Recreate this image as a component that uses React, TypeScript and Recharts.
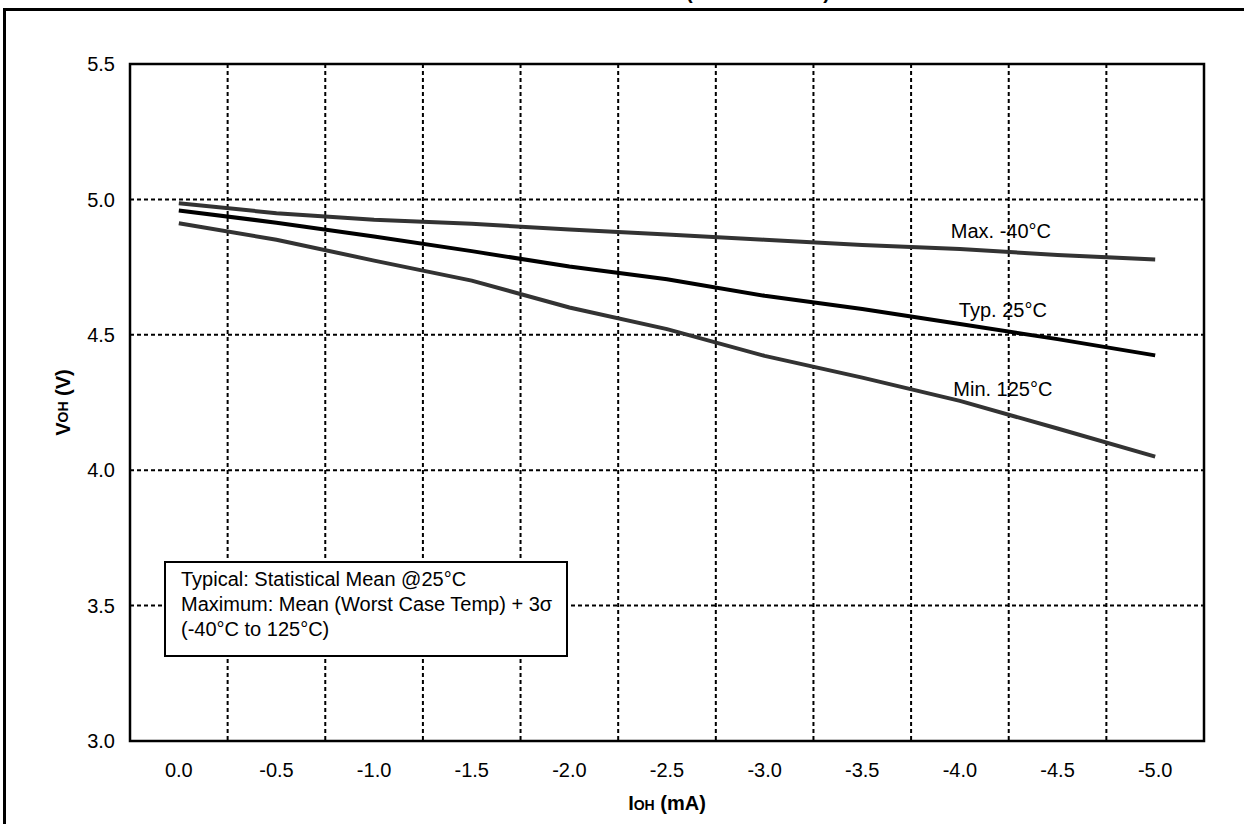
import { CartesianGrid, Line, LineChart, ReferenceArea, ReferenceDot, XAxis, YAxis } from 'recharts';

const FONT = "Arial, 'Liberation Sans', sans-serif";

// IOH (mA) categories and VOH (V) curves
const ioh = [0, -0.5, -1.0, -1.5, -2.0, -2.5, -3.0, -3.5, -4.0, -4.5, -5.0];
const vohMax = [4.986, 4.949, 4.925, 4.91, 4.889, 4.87, 4.851, 4.832, 4.817, 4.795, 4.778];
const vohTyp = [4.959, 4.914, 4.863, 4.809, 4.752, 4.705, 4.644, 4.595, 4.54, 4.484, 4.424];
const vohMin = [4.912, 4.851, 4.774, 4.7, 4.601, 4.521, 4.422, 4.342, 4.256, 4.154, 4.05];
const yTicks = [3.0, 3.5, 4.0, 4.5, 5.0, 5.5];
const seriesNames = ['Max. -40°C', 'Typ. 25°C', 'Min. 125°C'];
const noteLines = ['Typical: Statistical Mean @25°C', 'Maximum: Mean (Worst Case Temp) + 3σ', '(-40°C to 125°C)'];

const data = ioh.map((x, i) => ({ x, max: vohMax[i], typ: vohTyp[i], min: vohMin[i] }));

// half a category either side, like the original category axis
const xDomain = [ioh[ioh.length - 1] - 0.25, ioh[0] + 0.25];
const gridX = ioh.slice(1).map((v, i) => (v + ioh[i]) / 2);

const labelSpots = [
    { x: -4.21, y: 4.885 },
    { x: -4.22, y: 4.593 },
    { x: -4.22, y: 4.3 },
];

export default function App() {
    return (
        <div style={{ position: 'absolute', left: 0, top: 0, width: 1244, height: 824, overflow: 'hidden', background: '#fff', fontFamily: FONT }}>
            <div style={{ position: 'absolute', left: 3, top: 8, width: 1400, height: 1000, border: '3px solid #000' }} />
            <svg style={{ position: 'absolute', left: 0, top: 0 }} width={1244} height={20}>
                <text x={686} y={-1} fontSize={20} fontWeight="bold" fontFamily={FONT} textLength={144}>
                    (V<tspan fontSize={14}>DD</tspan> = 5.0V)
                </text>
            </svg>
            <div style={{ position: 'absolute', left: 0, top: 0 }}>
                <LineChart width={1244} height={824} data={data} margin={{ top: 64, right: 40, left: 0, bottom: 0 }}>
                    <CartesianGrid
                        stroke="#000"
                        strokeWidth={2}
                        strokeDasharray="4 3"
                        verticalCoordinatesGenerator={({ offset }: any) =>
                            gridX.map((v) => offset.left + ((xDomain[1] - v) / (xDomain[1] - xDomain[0])) * offset.width)
                        }
                    />
                    <XAxis
                        dataKey="x"
                        type="number"
                        domain={xDomain}
                        reversed
                        ticks={ioh}
                        interval={0}
                        tickFormatter={(v: number) => v.toFixed(1)}
                        height={83}
                        axisLine={false}
                        tickLine={false}
                        tickSize={8}
                        tickMargin={14}
                        tick={{ fill: '#000', fontSize: 20, fontFamily: FONT }}
                        label={{
                            content: ({ viewBox }: any) => (
                                <text
                                    x={viewBox.x + viewBox.width / 2}
                                    y={viewBox.y + 69}
                                    textAnchor="middle"
                                    fontSize={20}
                                    fontWeight="bold"
                                    fontFamily={FONT}
                                    fill="#000"
                                >
                                    I<tspan fontSize={14}>OH</tspan> (mA)
                                </text>
                            ),
                        }}
                    />
                    <YAxis
                        type="number"
                        domain={[3, 5.5]}
                        ticks={yTicks}
                        interval={0}
                        tickFormatter={(v: number) => v.toFixed(1)}
                        width={130}
                        axisLine={false}
                        tickLine={false}
                        tickSize={5}
                        tickMargin={10}
                        tick={{ fill: '#000', fontSize: 20, fontFamily: FONT }}
                        label={{
                            content: ({ viewBox }: any) => {
                                const cx = 63;
                                const cy = viewBox.y + viewBox.height / 2;
                                return (
                                    <text
                                        x={cx}
                                        y={cy}
                                        transform={`rotate(-90 ${cx} ${cy})`}
                                        textAnchor="middle"
                                        dominantBaseline="central"
                                        fontSize={20}
                                        fontWeight="bold"
                                        fontFamily={FONT}
                                        fill="#000"
                                    >
                                        V<tspan fontSize={14}>OH</tspan> (V)
                                    </text>
                                );
                            },
                        }}
                    />
                    <ReferenceArea
                        x1={xDomain[0]}
                        x2={xDomain[1]}
                        y1={3}
                        y2={5.5}
                        fill="none"
                        fillOpacity={0}
                        stroke="#000"
                        strokeWidth={2.5}
                        ifOverflow="visible"
                    />
                    <Line type="linear" dataKey="max" stroke="#333" strokeWidth={4} dot={false} isAnimationActive={false} />
                    <Line type="linear" dataKey="typ" stroke="#000" strokeWidth={4} dot={false} isAnimationActive={false} />
                    <Line type="linear" dataKey="min" stroke="#333" strokeWidth={4} dot={false} isAnimationActive={false} />
                    {seriesNames.map((name, i) => (
                        <ReferenceDot
                            key={name}
                            x={labelSpots[i].x}
                            y={labelSpots[i].y}
                            r={0}
                            fill="none"
                            stroke="none"
                            ifOverflow="visible"
                            label={{ value: name, position: 'center', fill: '#000', fontSize: 20, fontFamily: FONT }}
                        />
                    ))}
                </LineChart>
            </div>
            <div
                style={{
                    position: 'absolute',
                    left: 164,
                    top: 561,
                    height: 88,
                    padding: '4px 14px 0 15px',
                    border: '2px solid #000',
                    background: '#fff',
                    fontSize: 20,
                    lineHeight: '25px',
                    color: '#000',
                    whiteSpace: 'nowrap',
                    boxSizing: 'content-box',
                }}
            >
                {noteLines.map((t) => (
                    <div key={t}>{t}</div>
                ))}
            </div>
        </div>
    );
}
